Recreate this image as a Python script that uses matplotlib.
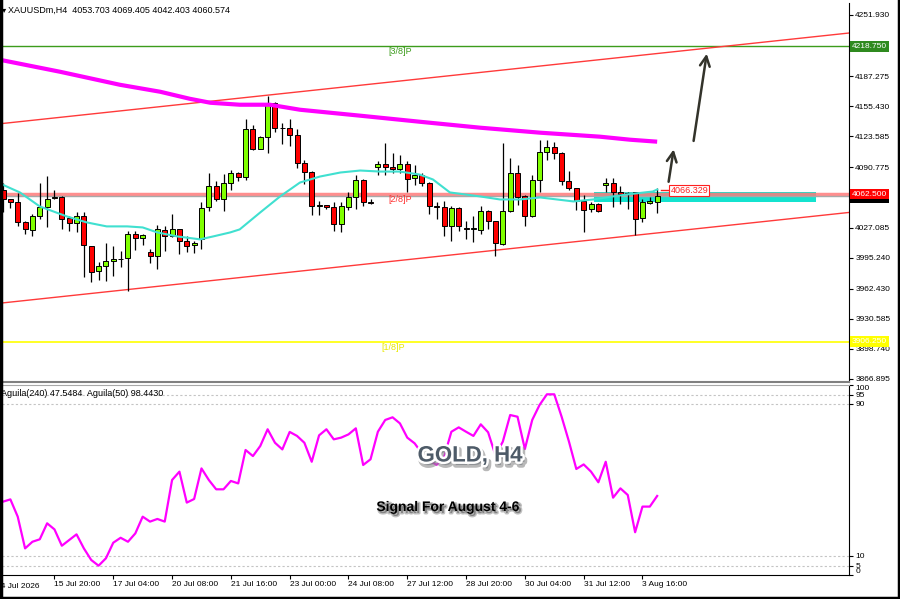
import matplotlib
matplotlib.use("Agg")
import matplotlib.pyplot as plt
import matplotlib.patheffects as pe
from matplotlib.patches import Rectangle
from matplotlib.lines import Line2D
import numpy as np

plt.rcParams['font.family'] = ['Liberation Sans', 'DejaVu Sans']

# ---- data (XAUUSDm, H4) ----
opens = [4067.3, 4056.8, 4053.6, 4032.5, 4024.0, 4038.8, 4048.3, 4058.5, 4058.9, 4036.7,
         4031.4, 4038.8, 4007.2, 3980.8, 3986.1, 3991.4, 3993.5, 3994.5, 4019.8, 4015.6,
         4000.9, 3996.6, 4024.0, 4017.7, 4025.1, 4012.5, 4008.2, 4014.6, 4048.3, 4071.5,
         4056.8, 4074.7, 4085.3, 4081.0, 4131.6, 4110.6, 4123.2, 4159.1, 4132.7, 4132.7,
         4125.3, 4095.8, 4086.3, 4049.4, 4050.4, 4048.3, 4030.4, 4048.3, 4058.9, 4077.9,
         4053.6, 4091.6, 4094.7, 4091.6, 4089.5, 4094.7, 4080.0, 4083.1, 4074.7, 4049.4,
         4048.3, 4028.3, 4047.3, 4026.4, 4026.0, 4024.0, 4044.1, 4033.5, 4009.3, 4044.1,
         4085.3, 4060.0, 4038.8, 4077.9, 4107.4, 4112.7, 4106.4, 4075.8, 4068.4, 4054.7,
         4046.2, 4051.5, 4072.6, 4074.7, 4065.2, 4063.1, 4064.2, 4036.7, 4052.6, 4053.703]
highs = [4074.7, 4057.5, 4063.1, 4033.5, 4040.9, 4074.7, 4082.1, 4067.3, 4060.0, 4038.8,
         4043.1, 4043.1, 4007.6, 3990.3, 4010.3, 4007.2, 4001.9, 4023.0, 4023.0, 4019.8,
         4004.0, 4029.3, 4028.3, 4040.9, 4025.5, 4017.7, 4012.5, 4053.6, 4085.3, 4075.8,
         4084.2, 4088.4, 4086.3, 4142.2, 4135.9, 4124.3, 4166.5, 4159.5, 4138.0, 4142.2,
         4131.6, 4099.0, 4086.6, 4054.7, 4050.8, 4053.6, 4053.6, 4064.2, 4083.1, 4078.9,
         4056.8, 4097.9, 4116.9, 4106.4, 4104.3, 4097.9, 4093.7, 4085.3, 4075.0, 4053.6,
         4054.7, 4049.4, 4048.3, 4033.5, 4038.8, 4049.4, 4045.2, 4033.8, 4116.9, 4101.1,
         4093.7, 4061.0, 4083.1, 4120.0, 4120.0, 4117.9, 4107.4, 4087.4, 4068.6, 4061.0,
         4053.6, 4052.6, 4080.0, 4080.0, 4070.5, 4064.2, 4064.5, 4056.8, 4058.9, 4069.405]
lows = [4043.1, 4047.3, 4028.3, 4019.8, 4017.7, 4035.7, 4027.2, 4056.8, 4025.1, 4023.0,
        4021.9, 3974.5, 3969.2, 3971.3, 3970.3, 3975.5, 3985.0, 3959.7, 4003.0, 4008.2,
        3989.3, 3982.9, 4001.9, 4016.7, 3998.8, 4000.9, 3999.8, 4004.0, 4044.1, 4054.7,
        4044.1, 4067.3, 4076.8, 4077.9, 4109.5, 4110.0, 4106.4, 4128.5, 4115.8, 4113.7,
        4090.5, 4073.6, 4039.9, 4039.9, 4046.2, 4023.0, 4021.9, 4045.2, 4046.2, 4049.4,
        4051.5, 4083.1, 4083.1, 4085.3, 4085.3, 4065.2, 4072.6, 4070.5, 4040.9, 4035.7,
        4017.7, 4012.5, 4023.0, 4014.6, 4011.4, 4019.8, 4025.1, 3996.6, 4008.2, 4043.5,
        4050.4, 4028.3, 4037.8, 4065.2, 4099.0, 4100.0, 4072.6, 4067.3, 4045.2, 4021.9,
        4043.1, 4043.1, 4064.2, 4048.3, 4051.5, 4046.2, 4018.8, 4032.5, 4051.5, 4042.403]
closes = [4056.8, 4053.6, 4032.5, 4025.1, 4038.8, 4048.3, 4057.8, 4059.2, 4035.7, 4031.4,
          4038.8, 4008.2, 3979.8, 3986.1, 3991.4, 3993.5, 3993.8, 4019.8, 4015.6, 4018.8,
          3996.6, 4025.1, 4017.7, 4025.1, 4012.5, 4007.2, 4010.3, 4047.3, 4071.5, 4056.8,
          4074.7, 4085.3, 4081.0, 4131.6, 4110.6, 4123.2, 4159.1, 4132.7, 4132.3, 4125.3,
          4095.8, 4086.3, 4049.4, 4050.4, 4048.3, 4030.4, 4049.4, 4058.9, 4077.9, 4053.6,
          4053.3, 4094.7, 4091.6, 4089.5, 4094.7, 4078.9, 4083.1, 4074.7, 4049.4, 4048.3,
          4028.3, 4047.3, 4028.3, 4026.0, 4026.4, 4044.1, 4033.5, 4010.3, 4044.1, 4085.3,
          4058.9, 4038.8, 4077.9, 4107.4, 4112.7, 4106.4, 4075.8, 4068.4, 4054.7, 4045.2,
          4051.5, 4044.1, 4074.7, 4065.2, 4062.1, 4062.8, 4035.7, 4053.6, 4054.7, 4060.574]

# slow MA (magenta) and fast MA (turquoise), read at selected bars
ma_slow_x = [-0.4, 7.8, 15.9, 21.4, 25.4, 28.2, 32.2, 36.3, 40.4, 48.6, 56.7, 64.9, 73.1, 81.2, 85.3, 89.0]
ma_slow_y = [4204.5, 4191.8, 4178.1, 4170.7, 4163.3, 4159.1, 4157.0, 4157.0, 4151.7, 4145.4,
             4139.0, 4132.7, 4127.4, 4123.2, 4120.0, 4117.9]
ma_fast_x = [-0.4, 2.3, 5.0, 8.7, 11.4, 14.1, 16.9, 19.0, 21.0, 23.7, 26.8, 28.6, 30.9, 32.2,
             35.0, 37.7, 40.4, 43.1, 45.9, 48.6, 51.3, 54.0, 56.7, 58.5, 60.8, 64.9, 67.6,
             70.3, 73.1, 77.6, 80.3, 83.0, 84.9, 88.4, 89.0]
ma_fast_y = [4073.6, 4064.2, 4049.4, 4038.8, 4032.5, 4028.3, 4028.3, 4027.2, 4021.9, 4017.7,
             4014.6, 4017.7, 4021.9, 4025.1, 4043.1, 4060.0, 4074.7, 4081.0, 4085.3, 4087.4,
             4086.3, 4086.3, 4083.1, 4077.9, 4064.2, 4060.0, 4056.8, 4056.8, 4058.9, 4054.7,
             4056.8, 4060.0, 4062.1, 4065.2, 4067.3]

# Aguila oscillator
aguila = [38.6, 39.8, 30.7, 14.0, 17.5, 18.8, 27.2, 24.0, 15.4, 18.4,
          21.4, 14.0, 7.9, 4.9, 8.8, 17.0, 19.6, 17.5, 21.9, 30.7,
          28.1, 29.5, 28.1, 50.0, 54.4, 38.1, 40.0, 56.1, 50.0, 45.1,
          45.1, 49.5, 48.2, 65.8, 62.6, 67.9, 76.7, 69.6, 66.1, 75.3,
          73.2, 69.6, 59.6, 73.5, 76.7, 71.4, 72.3, 74.0, 77.2, 57.9,
          60.9, 75.4, 81.6, 83.0, 79.8, 72.3, 69.3, 64.0, 60.0, 58.0,
          62.0, 75.4, 77.7, 75.4, 73.2, 79.3, 75.1, 63.0, 70.2, 84.2,
          83.3, 66.3, 81.6, 89.5, 95.1, 95.1, 83.3, 70.2, 55.8, 58.2,
          54.4, 48.8, 59.6, 40.7, 45.6, 42.1, 22.5, 36.0, 36.0, 41.6]
aguila_levels = [95, 90, 10, 5]

# Murrey levels and other objects
lvl_38, lvl_28, lvl_18 = 4218.750, 4062.500, 3906.250
last_price = 4060.574
mark_price = 4066.329
chan_up = (4137.2, 4220.3)   # values at bar 0 and bar 100
chan_dn = (3947.4, 4030.5)
zone_x0, zone_x1, zone_lo, zone_hi = 80.4, 110.6, 4053.6, 4065.2
arrow1 = ((90.5, 4072.6), (91.3, 4112.7))
arrow2 = ((93.9, 4115.8), (95.8, 4213.9))

price_ticks = [4251.930, 4187.275, 4155.430, 4123.585, 4090.775, 4027.085,
               3995.240, 3962.430, 3930.585, 3898.740, 3866.895]
date_pos = [7, 15, 23, 31, 39, 47, 55, 63, 71, 79, 87]
date_lbl = ['15 Jul 20:00', '17 Jul 04:00', '20 Jul 08:00', '21 Jul 16:00', '23 Jul 00:00',
            '24 Jul 08:00', '27 Jul 12:00', '28 Jul 20:00', '30 Jul 04:00', '31 Jul 12:00',
            '3 Aug 16:00']

# ---- figure ----
W, H = 900, 599
fig = plt.figure(figsize=(9, 5.99), dpi=100)


def px(l, t, r, b):
    return [l / W, 1 - b / H, (r - l) / W, (b - t) / H]


ax = fig.add_axes(px(2, 3, 849, 382))
ax2 = fig.add_axes(px(2, 385, 849, 575), sharex=ax)

o = np.array(opens); h = np.array(highs); l = np.array(lows); c = np.array(closes)
idx = np.arange(len(o))

ax.set_xlim(-0.14, 115.1)
ax.set_ylim(3863.7, 4264.6)

# zone and horizontal levels
ax.add_patch(Rectangle((zone_x0, zone_lo), zone_x1 - zone_x0, zone_hi - zone_lo,
                       facecolor='#14e3cf', edgecolor='none', zorder=1))
ax.axhline(lvl_38, color='#3c9c1c', lw=1, zorder=2)
ax.axhline(lvl_28, color='#ff7a7a', lw=2.5, alpha=0.85, zorder=2)
ax.axhline(last_price, color='#a8a8a8', lw=1, zorder=2)
ax.axhline(lvl_18, color='#ffff00', lw=1.2, zorder=2)
ax.text(52.4, lvl_38 - 5.5, '[3/8]P', color='#3c9c1c', fontsize=6.5, va='center', zorder=2)
ax.text(52.4, lvl_28 - 5.5, '[2/8]P', color='#ff3030', fontsize=6.5, va='center', zorder=2)
ax.text(51.5, lvl_18 - 6.5, '[1/8]P', color='#e8e800', fontsize=6.5, va='center', zorder=2)

# channel
ax.axline((0, chan_up[0]), (100, chan_up[1]), color='#ff3a3a', lw=1, zorder=2)
ax.axline((0, chan_dn[0]), (100, chan_dn[1]), color='#ff3a3a', lw=1, zorder=2)

# candles
up = c >= o
cols = np.where(up, '#80ff00', '#ff0000')
ax.vlines(idx, l, h, color='black', lw=0.9, zorder=3)
body_lo = np.minimum(o, c)
body_h = np.maximum(np.abs(c - o), 0.3)
ax.bar(idx, body_h, bottom=body_lo, width=0.68, color=cols, edgecolor='black',
       linewidth=0.7, zorder=4)

# moving averages
ax.plot(ma_slow_x, ma_slow_y, color='#ff00ff', lw=3, zorder=5, solid_capstyle='butt')
ax.plot(ma_fast_x, ma_fast_y, color='#40e0d0', lw=1.5, zorder=5)

# arrows
for (x0, y0), (x1, y1) in [arrow1, arrow2]:
    ax.annotate('', xy=(x1, y1), xytext=(x0, y0),
                arrowprops=dict(arrowstyle='->,head_length=0.7,head_width=0.35',
                                color='#33332b', lw=1.8), zorder=6)

# price mark label
ax.plot([89.5, 90.7], [mark_price, mark_price], color='#ff2020', lw=1, zorder=6)
ax.text(90.8, mark_price, '4066.329', color='#ff2020', fontsize=6.5, va='center', ha='left',
        bbox=dict(boxstyle='square,pad=0.12', fc='white', ec='#ff2020', lw=0.8), zorder=7)

# right price axis
ax.yaxis.tick_right()
ax.set_yticks(price_ticks)
ax.set_yticklabels([f'{t:.3f}' for t in price_ticks])
ax.tick_params(axis='y', labelsize=6, length=3, pad=1.5, direction='out', width=0.8)
ax.tick_params(axis='x', bottom=False, labelbottom=False)


def rlabel(price, text, fc, tc, z):
    ax.annotate(text, xy=(1, price), xycoords=ax.get_yaxis_transform(), xytext=(2.2, 0),
                textcoords='offset points', va='center', ha='left', fontsize=6, color=tc,
                bbox=dict(boxstyle='square,pad=0.22', fc=fc, ec='none'),
                annotation_clip=False, zorder=z)


rlabel(last_price - 1.5, '4060.574', 'black', '#555555', 8)
rlabel(lvl_28, '4062.500', '#ff0000', 'white', 9)
rlabel(lvl_38, '4218.750', '#2f8a1f', 'white', 9)
rlabel(lvl_18, '3906.250', '#ffff00', 'white', 9)

for s in ['top', 'left']:
    ax.spines[s].set_visible(False)
ax.spines['right'].set_color('black')
ax.spines['bottom'].set_color('#808080')
ax.spines['bottom'].set_linewidth(1.5)

# ---- oscillator panel ----
ax2.set_ylim(0, 100)
for lv in aguila_levels:
    ax2.axhline(lv, color='#c4c4c4', lw=0.8, ls=(0, (2, 2)), zorder=1)
ax2.plot(idx, aguila, color='#ff00ff', lw=1.6, zorder=3)
ax2.yaxis.tick_right()
ax2.set_yticks([0, 5, 10, 90, 95, 100])
ax2.set_yticklabels(['0', '5', '10', '90', '95', '100'])
ax2.tick_params(axis='y', labelsize=6, length=3, pad=1.5, width=0.8)
ylbls = ax2.get_yticklabels()
ylbls[0].set_va('bottom')
ylbls[-1].set_va('top')
ax2.set_xticks(date_pos)
ax2.set_xticklabels(date_lbl)
ax2.tick_params(axis='x', labelsize=6, length=3, pad=1.5, width=0.8)
for lb in ax2.get_xticklabels():
    lb.set_ha('left')
ax2.text(-1, -0.042, '14 Jul 2026', transform=ax2.get_xaxis_transform(), fontsize=6,
         ha='left', va='top', clip_on=False)
ax2.spines['top'].set_color('#a8a8a8')
ax2.spines['left'].set_visible(False)
ax2.spines['right'].set_color('black')
ax2.spines['bottom'].set_color('black')

# texts
fig.text(1.5 / W, 1 - 10 / H, '\u25be', fontsize=6, va='center', ha='left',
         family=['DejaVu Sans'])
fig.text(8 / W, 1 - 10 / H, 'XAUUSDm,H4  4053.703 4069.405 4042.403 4060.574',
         fontsize=6.5, va='center', ha='left')
fig.text(1 / W, 1 - 393 / H, 'Aguila(240) 47.5484  Aguila(50) 98.4430',
         fontsize=6.5, va='center', ha='left')

fig.text(470 / W, 1 - 456 / H, 'GOLD, H4', fontsize=16, weight='bold', color='#4e5b68',
         ha='center', va='center', zorder=10,
         path_effects=[pe.Stroke(offset=(1.5, -2.5), linewidth=4, foreground='#8a8a8a', alpha=0.6),
                       pe.Stroke(linewidth=3.5, foreground='white'), pe.Normal()])
fig.text(448 / W, 1 - 507 / H, 'Signal For August 4-6', fontsize=10, weight='bold',
         color='black', ha='center', va='center', zorder=10,
         path_effects=[pe.Stroke(offset=(1.5, -1.5), linewidth=2, foreground='#999999', alpha=0.6),
                       pe.Normal()])

# outer frame
for xs, ys in [([1 / W, 1 / W], [0, 1]), ([0, 1], [1 / H, 1 / H]),
               ([1 - 1.5 / W, 1 - 1.5 / W], [0, 1])]:
    fig.add_artist(Line2D(xs, ys, color='black', lw=2.5))

fig.savefig('out.png', dpi=100, facecolor='white')
